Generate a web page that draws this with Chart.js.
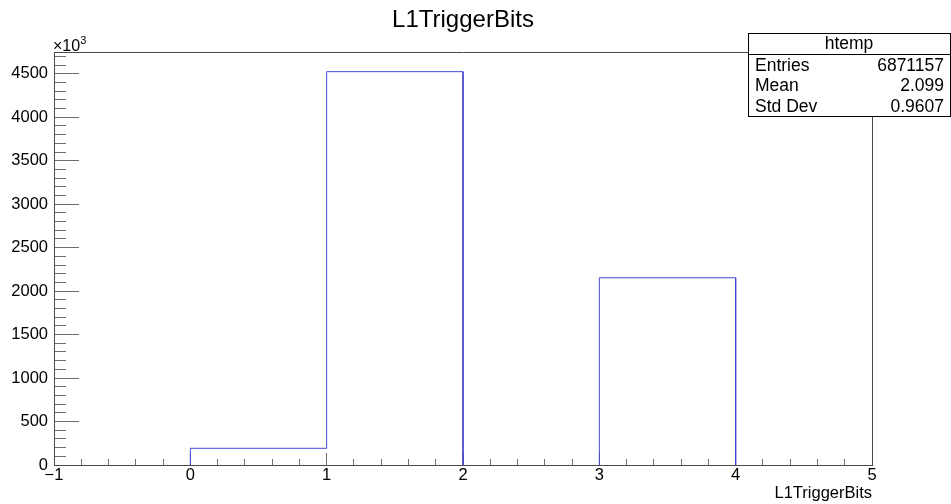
<!DOCTYPE html>
<html>
<head>
<meta charset="utf-8">
<title>L1TriggerBits</title>
<script src="https://cdn.jsdelivr.net/npm/chart.js@4/dist/chart.umd.min.js"></script>
<style>
  html, body { margin: 0; padding: 0; background: #fff; }
  canvas { display: block; }
</style>
</head>
<body>
<canvas id="hist" width="951" height="504"></canvas>
<script>
// histogram contents (counts in units of 10^3)
const binEdges = [0, 1, 2, 3, 4];
const binCounts = [192, 4525, 0, 2154];
const xTickValues = [-1, 0, 1, 2, 3, 4, 5];
const yTickValues = [0, 500, 1000, 1500, 2000, 2500, 3000, 3500, 4000, 4500];
const statNames = ['Entries', 'Mean', 'Std Dev'];
const statValues = ['6871157', '2.099', '0.9607'];
const histName = 'htemp';
const varName = 'L1TriggerBits';

const FONT = '"Liberation Sans", Arial, Helvetica, sans-serif';
const AXIS = '#4a4a4a';
const TICK = '#6e6e6e';

// outline: up, across and down each bin
const outline = [{x: binEdges[0], y: 0}];
binCounts.forEach((c, i) => {
  outline.push({x: binEdges[i], y: c}, {x: binEdges[i + 1], y: c});
});
outline.push({x: binEdges[binEdges.length - 1], y: 0});

const yMax = Math.max(...binCounts) * 1.05;

function fixTicks(values) {
  return scale => { scale.ticks = values.map(v => ({value: v})); };
}

// frame edges, stats box and the exponent label
const decorations = {
  id: 'decorations',
  afterDraw(chart) {
    const {ctx, chartArea: a} = chart;
    ctx.save();
    ctx.strokeStyle = AXIS;
    ctx.lineWidth = 1;
    ctx.beginPath();
    ctx.moveTo(Math.round(a.left) + 0.5, Math.round(a.top) + 0.5);
    ctx.lineTo(Math.round(a.right) + 0.5, Math.round(a.top) + 0.5);
    ctx.lineTo(Math.round(a.right) + 0.5, Math.round(a.bottom) + 0.5);
    ctx.stroke();

    // stats box
    const bx = 748, by = 33, bw = 202, bh = 83, hh = 21;
    ctx.fillStyle = '#fff';
    ctx.fillRect(bx, by, bw, bh);
    ctx.strokeStyle = '#000';
    ctx.strokeRect(bx + 0.5, by + 0.5, bw, bh);
    ctx.beginPath();
    ctx.moveTo(bx, by + hh + 0.5);
    ctx.lineTo(bx + bw, by + hh + 0.5);
    ctx.stroke();

    ctx.fillStyle = '#000';
    ctx.font = '17.5px ' + FONT;
    ctx.textBaseline = 'middle';
    ctx.textAlign = 'center';
    ctx.fillText(histName, bx + bw / 2, by + hh / 2 + 1);
    const rowH = (bh - hh) / statNames.length;
    statNames.forEach((name, i) => {
      const y = by + hh + rowH * (i + 0.5) + 1.5;
      ctx.textAlign = 'left';
      ctx.fillText(name, bx + 7, y);
      ctx.textAlign = 'right';
      ctx.fillText(statValues[i], bx + bw - 6, y);
    });

    // x10^3 above the y axis
    ctx.textAlign = 'left';
    ctx.textBaseline = 'alphabetic';
    ctx.font = '16px ' + FONT;
    ctx.fillText('\u00d710', a.left - 1, a.top - 1);
    const w = ctx.measureText('\u00d710').width;
    ctx.font = '11px ' + FONT;
    ctx.fillText('3', a.left - 1 + w, a.top - 8);
    ctx.restore();
  }
};

new Chart(document.getElementById('hist'), {
  type: 'line',
  data: {
    datasets: [{
      label: histName,
      data: outline,
      borderColor: 'rgb(70, 70, 210)',
      borderWidth: 1,
      pointRadius: 0,
      pointHoverRadius: 0,
      fill: false,
      tension: 0,
      // empty bins sit on the axis line
      segment: {
        borderColor: ctx => (ctx.p0.parsed.y === 0 && ctx.p1.parsed.y === 0) ? 'rgba(0,0,0,0)' : undefined
      }
    }]
  },
  options: {
    responsive: false,
    animation: false,
    layout: { padding: { left: 0, right: 79, top: 0, bottom: 0 } },
    plugins: {
      legend: { display: false },
      tooltip: { enabled: false },
      title: {
        display: true,
        text: varName,
        fullSize: false,
        color: '#000',
        font: { family: FONT, size: 24, weight: 'normal' },
        padding: { top: 6, bottom: 17.2 }
      }
    },
    scales: {
      x: {
        type: 'linear', position: 'bottom', weight: 1, z: 1,
        min: -1, max: 5,
        afterBuildTicks: fixTicks(xTickValues),
        afterFit: s => { s.height = 39; },
        border: { color: AXIS, width: 1 },
        grid: { drawOnChartArea: false, tickLength: -12, tickColor: TICK },
        ticks: {
          padding: 13, color: '#000', maxRotation: 0, autoSkip: false,
          font: { family: FONT, size: 16.5 },
          callback: v => v < 0 ? '\u2212' + Math.abs(v) : String(v)
        },
        title: {
          display: true, text: varName, align: 'end', color: '#000',
          font: { family: FONT, size: 16.5 },
          padding: { top: 0, bottom: 1 }
        }
      },
      xMinor: {
        type: 'linear', position: 'bottom', weight: 0, z: 1,
        min: -1, max: 5,
        afterFit: s => { s.height = 0; },
        border: { display: false },
        grid: { drawOnChartArea: false, tickLength: -6, tickColor: TICK },
        ticks: { display: false, stepSize: 0.2, includeBounds: false }
      },
      y: {
        type: 'linear', position: 'left', weight: 1, z: 1,
        min: 0, max: yMax,
        afterBuildTicks: fixTicks(yTickValues),
        // fixed width; label overhang fits inside the title/x-axis boxes
        afterFit: s => { s.width = 54; s.paddingTop = 0; s.paddingBottom = 0; },
        border: { color: AXIS, width: 1 },
        grid: { drawOnChartArea: false, tickLength: -25, tickColor: TICK },
        ticks: {
          padding: 31, color: '#000', autoSkip: false,
          font: { family: FONT, size: 16.5 },
          callback: v => String(v)
        }
      },
      yMinor: {
        type: 'linear', position: 'left', weight: 0, z: 1,
        min: 0, max: yMax,
        afterFit: s => { s.width = 0; s.paddingTop = 0; s.paddingBottom = 0; },
        border: { display: false },
        grid: { drawOnChartArea: false, tickLength: -12, tickColor: TICK },
        ticks: { display: false, stepSize: 100, includeBounds: false }
      }
    }
  },
  plugins: [decorations]
});
</script>
</body>
</html>
